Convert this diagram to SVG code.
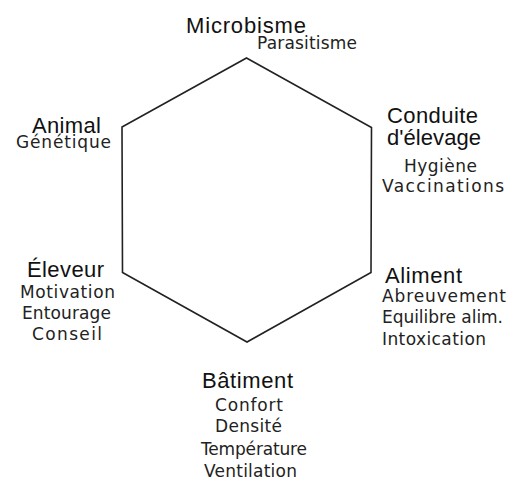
<svg xmlns="http://www.w3.org/2000/svg" width="507" height="481" viewBox="0 0 507 481">
<style>
.h{font-family:"Liberation Sans",Arial,sans-serif;font-size:22px;fill:#111}
.s{font-family:"DejaVu Sans",sans-serif;font-size:17px;fill:#222}
.edge{fill:none;stroke:#222;stroke-width:1.6;stroke-linejoin:miter}
</style>
<rect width="507" height="481" fill="#fff"/>
<g id="connectors">
<polygon class="edge" points="246.5,58 371.5,127.5 371,272.5 247,342 122.5,272.5 122,127"/>
</g>
<g id="microbisme">
<text class="h" x="186" y="33" textLength="120">Microbisme</text>
<text class="s" x="257" y="49" textLength="100">Parasitisme</text>
</g>
<g id="animal">
<text class="h" x="32" y="133" textLength="69">Animal</text>
<text class="s" x="16" y="148" textLength="95">Génétique</text>
</g>
<g id="conduite">
<text class="h" x="387" y="123" textLength="91">Conduite</text>
<text class="h" x="387" y="145" textLength="94">d'élevage</text>
<text class="s" x="404" y="172" textLength="73">Hygiène</text>
<text class="s" x="382" y="192" textLength="122">Vaccinations</text>
</g>
<g id="eleveur">
<text class="h" x="27" y="277" textLength="77">Éleveur</text>
<text class="s" x="20" y="298" textLength="95">Motivation</text>
<text class="s" x="22" y="319" textLength="89">Entourage</text>
<text class="s" x="32" y="340" textLength="70">Conseil</text>
</g>
<g id="aliment">
<text class="h" x="385" y="283" textLength="77">Aliment</text>
<text class="s" x="382" y="302" textLength="124">Abreuvement</text>
<text class="s" x="382" y="323" textLength="121">Equilibre alim.</text>
<text class="s" x="382" y="345" textLength="104">Intoxication</text>
</g>
<g id="batiment">
<text class="h" x="202" y="388" textLength="91">Bâtiment</text>
<text class="s" x="215" y="411" textLength="68">Confort</text>
<text class="s" x="215" y="432" textLength="67">Densité</text>
<text class="s" x="201" y="455" textLength="106">Température</text>
<text class="s" x="204" y="477" textLength="93">Ventilation</text>
</g>
</svg>
